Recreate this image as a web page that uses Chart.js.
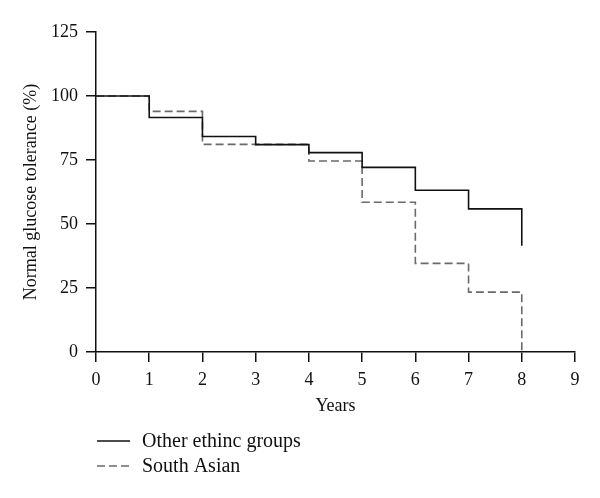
<!DOCTYPE html>
<html>
<head>
<meta charset="utf-8">
<script src="https://cdn.jsdelivr.net/npm/chart.js@4"></script>
<style>
  html, body { margin: 0; padding: 0; background: #fff; }
</style>
</head>
<body>
<canvas id="chart" width="600" height="498"></canvas>
<script>
const years = [0, 1, 2, 3, 4, 5, 6, 7, 8];
const otherGroups = [100, 91.6, 84.2, 81.0, 77.9, 72.1, 63.2, 55.9, 41.5];
const southAsian = [100, 94.0, 81.1, 81.1, 74.6, 58.5, 34.6, 23.4, 0];
const xTickValues = [0, 1, 2, 3, 4, 5, 6, 7, 8, 9];
const yTickValues = [0, 25, 50, 75, 100, 125];
const seriesLabels = ['Other ethinc groups', 'South Asian'];

const serif = "'Liberation Serif', 'DejaVu Serif', serif";
const ink = '#111';

function points(values) {
    return years.map((x, i) => ({ x, y: values[i] }));
}

// legend stacked under the axis, line sample then label
const stackedLegend = {
    id: 'stackedLegend',
    afterDraw(chart) {
        const { ctx } = chart;
        chart.data.datasets.forEach((ds, i) => {
            const y = 441 + i * 25;
            ctx.save();
            ctx.strokeStyle = ds.borderColor;
            ctx.lineWidth = ds.borderWidth;
            ctx.setLineDash(ds.borderDash || []);
            ctx.beginPath();
            ctx.moveTo(97, y);
            ctx.lineTo(130, y);
            ctx.stroke();
            ctx.setLineDash([]);
            ctx.fillStyle = ink;
            ctx.font = '20px ' + serif;
            ctx.textBaseline = 'middle';
            ctx.fillText(ds.label, 142, y + 1);
            ctx.restore();
        });
    },
};

const axisCommon = {
    grid: { drawOnChartArea: false, color: ink, lineWidth: 1.5, tickLength: 10 },
    border: { color: ink, width: 1.5 },
};

new Chart(document.getElementById('chart'), {
    type: 'line',
    data: {
        datasets: [
            {
                label: seriesLabels[0],
                data: points(otherGroups),
                stepped: true,
                borderColor: ink,
                borderWidth: 1.6,
                pointRadius: 0,
                fill: false,
            },
            {
                label: seriesLabels[1],
                data: points(southAsian),
                stepped: true,
                borderColor: '#6a6a6a',
                borderWidth: 1.6,
                borderDash: [8, 4],
                pointRadius: 0,
                fill: false,
            },
        ],
    },
    options: {
        responsive: false,
        animation: false,
        layout: { padding: { left: 20, right: 25, top: 32, bottom: 0 } },
        plugins: {
            legend: { display: false },
            tooltip: { enabled: false },
        },
        scales: {
            x: {
                type: 'linear',
                min: 0,
                max: 9,
                afterBuildTicks: (scale) => { scale.ticks = xTickValues.map((v) => ({ value: v })); },
                afterFit: (scale) => { scale.height = 146; },
                ticks: { color: ink, font: { family: serif, size: 18 }, padding: 7, maxRotation: 0 },
                title: {
                    display: true,
                    text: 'Years',
                    color: ink,
                    font: { family: serif, size: 18 },
                    padding: { top: 0, bottom: 81 },
                },
                ...axisCommon,
            },
            y: {
                min: 0,
                max: 125,
                afterBuildTicks: (scale) => { scale.ticks = yTickValues.map((v) => ({ value: v })); },
                afterFit: (scale) => { scale.width = 76; },
                ticks: { color: ink, font: { family: serif, size: 18 }, padding: 8 },
                title: {
                    display: true,
                    text: 'Normal glucose tolerance (%)',
                    color: ink,
                    font: { family: serif, size: 18 },
                    padding: { top: 0, bottom: 0 },
                },
                ...axisCommon,
            },
        },
    },
    plugins: [stackedLegend],
});
</script>
</body>
</html>
